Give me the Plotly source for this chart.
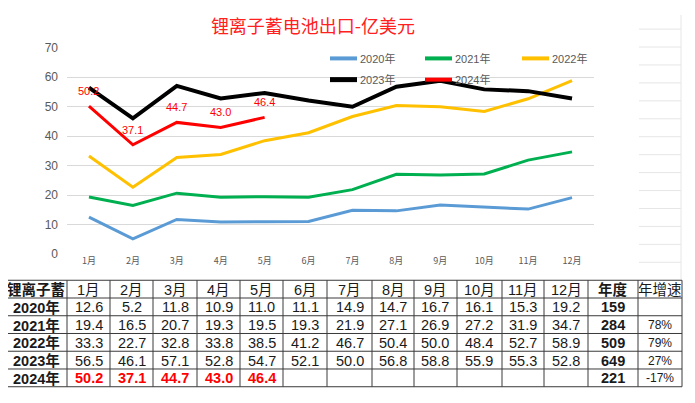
import plotly.graph_objects as go

# ---------------- data ----------------
months = ["1月", "2月", "3月", "4月", "5月", "6月", "7月", "8月", "9月", "10月", "11月", "12月"]
series_names = ["2020年", "2021年", "2022年", "2023年", "2024年"]
v2020 = [12.6, 5.2, 11.8, 10.9, 11.0, 11.1, 14.9, 14.7, 16.7, 16.1, 15.3, 19.2]
v2021 = [19.4, 16.5, 20.7, 19.3, 19.5, 19.3, 21.9, 27.1, 26.9, 27.2, 31.9, 34.7]
v2022 = [33.3, 22.7, 32.8, 33.8, 38.5, 41.2, 46.7, 50.4, 50.0, 48.4, 52.7, 58.9]
v2023 = [56.5, 46.1, 57.1, 52.8, 54.7, 52.1, 50.0, 56.8, 58.8, 55.9, 55.3, 52.8]
v2024 = [50.2, 37.1, 44.7, 43.0, 46.4]
annual = [159, 284, 509, 649, 221]
growth = ["", "78%", "79%", "27%", "-17%"]
table_corner = "锂离子蓄"
col_annual = "年度"
col_growth = "年增速"
title_text = "锂离子蓄电池出口-亿美元"

values = [v2020, v2021, v2022, v2023, v2024]
colors = ["#5B9BD5", "#00B050", "#FFC000", "#000000", "#FF0000"]
widths = [3, 3, 3, 4, 3]

# page body has an 8px default margin; compensate so the layout lands where intended
OFF = 8
W, H = 695 - OFF, 403 - OFF


def xp(px):
    return (px - OFF) / W


def yp(py):
    return 1 - (py - OFF) / H


fig = go.Figure()
for name, vals, c, w in zip(series_names, values, colors, widths):
    fig.add_trace(go.Scatter(
        x=months[:len(vals)], y=vals, name=name, mode="lines",
        line=dict(color=c, width=w), showlegend=False,
    ))

shapes = []
annotations = []

# data labels for the latest year
for m, v in zip(months, v2024):
    annotations.append(dict(xref="x", yref="y", x=m, y=v, yshift=15, showarrow=False,
                            xanchor="center", yanchor="middle", text=f"{v:.1f}",
                            font=dict(size=11, color="#FF0000",
                                      family="Liberation Sans, Noto Sans CJK SC")))

# legend (manual layout)
leg_pos = [(330, 53), (425, 53), (522, 53), (330, 75), (425, 75)]
for (lx, ly), name, c, w in zip(leg_pos, series_names, colors, widths):
    shapes.append(dict(type="line", xref="paper", yref="paper",
                       x0=xp(lx), x1=xp(lx + 27), y0=yp(ly), y1=yp(ly),
                       line=dict(color=c, width=w + 1)))
    annotations.append(dict(xref="paper", yref="paper", x=xp(lx + 28), y=yp(ly),
                            xanchor="left", yanchor="middle", showarrow=False,
                            text=name, font=dict(size=11, color="#595959",
                                                 family="Liberation Sans, Noto Sans CJK SC")))

# faint spreadsheet gridlines on the right
for i in range(15):
    gy = 4 + i * 18.6
    if gy < OFF:
        continue
    shapes.append(dict(type="line", xref="paper", yref="paper",
                       x0=xp(639), x1=xp(681), y0=yp(gy), y1=yp(gy),
                       line=dict(color="#e6e6e6", width=1)))
shapes.append(dict(type="line", xref="paper", yref="paper",
                   x0=xp(681), x1=xp(681), y0=yp(OFF), y1=yp(282),
                   line=dict(color="#e6e6e6", width=1)))

# ---------------- table ----------------
col_edges = [5, 67, 110, 153, 197, 240, 283, 327, 372, 414, 457, 502, 544, 588, 638, 682]
row_edges = [283, 301.4, 319.8, 338.2, 356.6, 375, 393.4]
line_col = "#3a3a3a"
for xe in col_edges:
    shapes.append(dict(type="line", xref="paper", yref="paper",
                       x0=xp(xe), x1=xp(xe), y0=yp(row_edges[0]), y1=yp(row_edges[-1]),
                       line=dict(color=line_col, width=1)))
for ye in row_edges:
    shapes.append(dict(type="line", xref="paper", yref="paper",
                       x0=xp(col_edges[0]), x1=xp(col_edges[-1]), y0=yp(ye), y1=yp(ye),
                       line=dict(color=line_col, width=1)))

tfont = "Liberation Sans, Noto Sans CJK SC"
header = [f"<b>{table_corner}</b>"] + months + [f"<b>{col_annual}</b>", col_growth]
rows = [header]
for i, (name, vals) in enumerate(zip(series_names, values)):
    is_last = i == len(series_names) - 1
    cells = [f"<b>{name}</b>"]
    for m in range(12):
        if m < len(vals):
            s = f"{vals[m]:.1f}"
            cells.append(f"<b>{s}</b>" if is_last else s)
        else:
            cells.append("")
    cells.append(f"<b>{annual[i]}</b>")
    cells.append(growth[i])
    rows.append(cells)

for r, cells in enumerate(rows):
    cy = (row_edges[r] + row_edges[r + 1]) / 2
    for c, txt in enumerate(cells):
        if not txt:
            continue
        cx = (col_edges[c] + col_edges[c + 1]) / 2
        color = "#1a1a1a"
        size = 14.5
        if r == len(rows) - 1 and 1 <= c <= 12:
            color = "#FF0000"
        if c == 14 and r > 0:
            size = 12
        annotations.append(dict(xref="paper", yref="paper", x=xp(cx), y=yp(cy + 0.5),
                                xanchor="center", yanchor="middle", showarrow=False,
                                text=txt, font=dict(size=size, color=color, family=tfont)))

fig.update_layout(
    width=W, height=H,
    margin=dict(l=0, r=0, t=0, b=0),
    paper_bgcolor="white", plot_bgcolor="white",
    title=dict(text=title_text, x=xp(313), y=yp(27), xanchor="center", yanchor="middle",
               font=dict(size=18, color="#FF2020", family="Noto Sans CJK SC")),
    xaxis=dict(domain=[xp(67), xp(594)], showgrid=False, showline=False, zeroline=False,
               ticks="", tickfont=dict(size=9, color="#595959", family="Noto Sans CJK SC"),
               categoryorder="array", categoryarray=months, range=[-0.5, 11.5]),
    yaxis=dict(domain=[yp(256), yp(42)], range=[0, 70], dtick=10,
               showgrid=True, gridcolor="#d9d9d9", gridwidth=1, zeroline=False,
               showline=False, ticks="", ticklabelstandoff=8,
               tickfont=dict(size=12, color="#595959", family="Liberation Sans")),
    shapes=shapes,
    annotations=annotations,
    showlegend=False,
)

fig.write_html("out.html")
